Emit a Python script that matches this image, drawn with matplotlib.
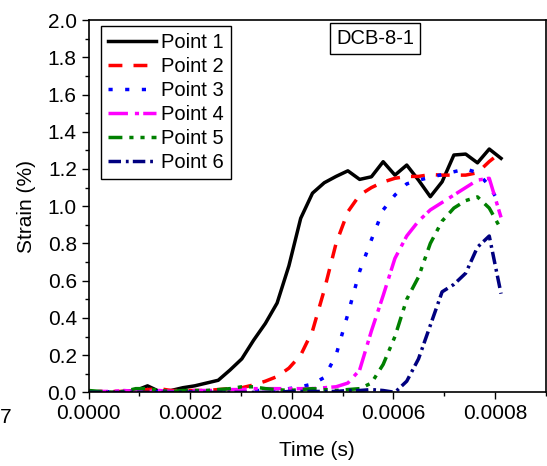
import matplotlib
matplotlib.use('Agg')
import matplotlib.pyplot as plt
from matplotlib.ticker import MultipleLocator, FormatStrFormatter

plt.rcParams['font.family'] = ['Liberation Sans', 'DejaVu Sans']
plt.rcParams['lines.scale_dashes'] = False

# sampling times (s)
time = [0.0, 23.2e-6, 46.4e-6, 69.6e-6, 92.8e-6, 115.9e-6, 139.1e-6, 162.3e-6,
        185.5e-6, 208.7e-6, 231.9e-6, 255.1e-6, 278.3e-6, 301.5e-6, 324.7e-6,
        347.8e-6, 371.0e-6, 394.2e-6, 417.4e-6, 440.6e-6, 463.8e-6, 487.0e-6,
        510.2e-6, 533.4e-6, 556.6e-6, 579.7e-6, 602.9e-6, 626.1e-6, 649.3e-6,
        672.5e-6, 695.7e-6, 718.9e-6, 742.1e-6, 765.3e-6, 788.5e-6, 811.7e-6]

# strain (%) at each gauge point
point1 = [0.0, 0.0, 0.0, 0.005, 0.01, 0.035, 0.005, 0.01, 0.025, 0.035, 0.05, 0.065,
          0.12, 0.18, 0.28, 0.37, 0.48, 0.68, 0.935, 1.07, 1.126, 1.16, 1.19, 1.144,
          1.158, 1.239, 1.167, 1.221, 1.14, 1.051, 1.131, 1.275, 1.28, 1.233, 1.307, 1.257]
point2 = [0.0, 0.005, 0.005, 0.005, 0.01, 0.015, 0.02, 0.01, 0.01, 0.01, 0.01, 0.015,
          0.02, 0.025, 0.04, 0.06, 0.085, 0.13, 0.2, 0.33, 0.55, 0.8, 0.97, 1.06,
          1.1, 1.13, 1.15, 1.16, 1.16, 1.17, 1.167, 1.167, 1.167, 1.18, 1.24, 1.29]
point3 = [0.0, 0.0, 0.005, 0.0, 0.005, 0.0, 0.005, 0.0, 0.005, 0.0, 0.005, 0.0,
          0.005, 0.005, 0.01, 0.01, 0.01, 0.02, 0.03, 0.045, 0.08, 0.2, 0.42, 0.65,
          0.82, 0.98, 1.06, 1.12, 1.14, 1.155, 1.17, 1.185, 1.2, 1.18, 1.11, 1.0]
point4 = [0.0, 0.005, 0.005, 0.01, 0.005, 0.005, 0.01, 0.005, 0.005, 0.01, 0.01, 0.01,
          0.015, 0.015, 0.02, 0.02, 0.02, 0.02, 0.02, 0.02, 0.025, 0.03, 0.05, 0.12,
          0.33, 0.52, 0.72, 0.84, 0.92, 0.98, 1.02, 1.06, 1.1, 1.14, 1.15, 0.94]
point5 = [0.01, 0.005, 0.0, 0.005, 0.02, 0.02, 0.01, 0.005, 0.01, 0.01, 0.01, 0.015,
          0.02, 0.03, 0.03, 0.02, 0.015, 0.01, 0.015, 0.02, 0.015, 0.01, 0.015, 0.02,
          0.05, 0.15, 0.3, 0.5, 0.62, 0.8, 0.92, 0.99, 1.03, 1.05, 0.99, 0.876]
point6 = [0.0, 0.0, 0.0, 0.0, 0.0, 0.0, 0.0, 0.0, 0.0, 0.0, 0.0, 0.0,
          0.0, 0.0, 0.0, 0.0, 0.0, 0.005, 0.005, 0.005, 0.005, 0.005, 0.01, 0.01,
          0.015, 0.01, 0.0, 0.06, 0.18, 0.36, 0.54, 0.58, 0.64, 0.78, 0.84, 0.53]

labels = ['Point 1', 'Point 2', 'Point 3', 'Point 4', 'Point 5', 'Point 6']
colors = ['black', '#ff0000', '#0000ff', '#ff00ff', '#008000', '#000080']
styles = ['-', (0, (10, 8)), (0, (3, 9)), (0, (14, 5, 3, 3)),
          (0, (10, 5, 3, 5, 3, 5)), (0, (9, 3.5, 2, 3))]

fig = plt.figure(figsize=(5.47, 4.66), dpi=100)
ax = fig.add_axes([0.162, 0.158, 0.836, 0.799])

for y, lab, c, ls in zip([point1, point2, point3, point4, point5, point6],
                         labels, colors, styles):
    ax.plot(time, y, color=c, linestyle=ls, linewidth=2.5, label=lab)

ax.set_xlim(0, 0.0009)
ax.set_ylim(0, 2.0)
ax.xaxis.set_major_locator(MultipleLocator(0.0002))
ax.xaxis.set_minor_locator(MultipleLocator(0.0001))
ax.yaxis.set_major_locator(MultipleLocator(0.2))
ax.yaxis.set_minor_locator(MultipleLocator(0.1))
ax.xaxis.set_major_formatter(FormatStrFormatter('%.4f'))
ax.yaxis.set_major_formatter(FormatStrFormatter('%.1f'))
ax.tick_params(which='major', direction='out', length=5, width=1, labelsize=15)
ax.tick_params(which='minor', direction='out', length=3, width=1)
for s in ax.spines.values():
    s.set_linewidth(1.2)

ax.set_xlabel('Time (s)', fontsize=15, labelpad=13)
ax.set_ylabel('Strain (%)', fontsize=15, labelpad=8)

leg = ax.legend(loc='upper left', bbox_to_anchor=(0.026, 0.984), borderaxespad=0,
                fontsize=14.5, handlelength=2.4, handletextpad=0.25,
                labelspacing=0.25, fancybox=False, framealpha=1,
                edgecolor='black', borderpad=0.35)
leg.get_frame().set_linewidth(1.0)

ax.text(0.000564, 1.903, 'DCB-8-1', fontsize=14.5, ha='center', va='center',
        bbox=dict(boxstyle='square,pad=0.3', facecolor='white', edgecolor='black', lw=1))

fig.text(0.0, 0.104, '7', fontsize=15, ha='left', va='center')

fig.savefig('out.png', dpi=100)
